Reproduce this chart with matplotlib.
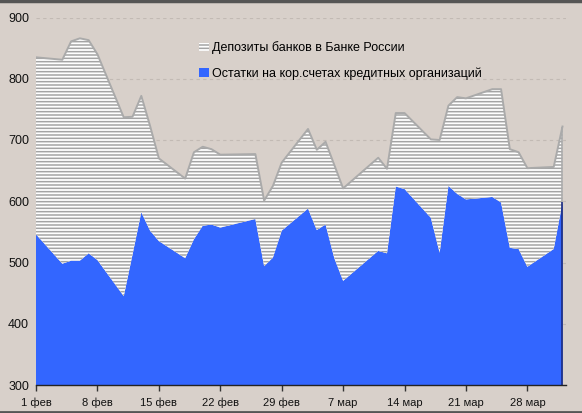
import matplotlib
matplotlib.use('Agg')
import matplotlib.pyplot as plt
import pandas as pd
from matplotlib.lines import Line2D

# рабочие дни февраль - март 2008
dates = ['2008-02-01', '2008-02-04', '2008-02-05', '2008-02-06', '2008-02-07', '2008-02-08',
         '2008-02-11', '2008-02-12', '2008-02-13', '2008-02-14', '2008-02-15',
         '2008-02-18', '2008-02-19', '2008-02-20', '2008-02-21', '2008-02-22',
         '2008-02-26', '2008-02-27', '2008-02-28', '2008-02-29',
         '2008-03-03', '2008-03-04', '2008-03-05', '2008-03-06', '2008-03-07',
         '2008-03-11', '2008-03-12', '2008-03-13', '2008-03-14',
         '2008-03-17', '2008-03-18', '2008-03-19', '2008-03-20', '2008-03-21',
         '2008-03-24', '2008-03-25', '2008-03-26', '2008-03-27', '2008-03-28',
         '2008-03-31', '2008-04-01']

# остатки на корсчетах, млрд руб.
ostatki = [546, 498, 503, 503, 515, 504,
           445, 513, 582, 552, 535,
           507, 538, 560, 562, 557,
           571, 494, 508, 552,
           588, 553, 562, 507, 470,
           519, 515, 624, 620,
           573, 516, 625, 612, 603,
           607, 598, 524, 522, 493,
           522, 598]

# депозиты банков в Банке России
depozity = [289, 333, 358, 363, 348, 336,
            292, 225, 190, 171, 135,
            130, 142, 129, 123, 119,
            106, 107, 117, 111,
            130, 131, 135, 152, 151,
            152, 138, 120, 124,
            128, 184, 131, 158, 165,
            176, 185, 161, 158, 161,
            134, 124]

label_dep = 'Депозиты банков в Банке России'
label_ost = 'Остатки на кор.счетах кредитных организаций'
months = {2: 'фев', 3: 'мар', 4: 'апр'}

bg = '#d8d0ca'
blue = '#3366ff'

plt.rcParams['hatch.linewidth'] = 1.1
plt.rcParams['font.family'] = ['Liberation Sans', 'DejaVu Sans']

x = pd.to_datetime(dates)
top = [o + d for o, d in zip(ostatki, depozity)]

fig = plt.figure(figsize=(5.82, 4.13), dpi=100, facecolor=bg)
ax = fig.add_axes([36/582, 1 - 385/413, 530/582, 367.5/413])
ax.set_facecolor(bg)

# сетка за графиком
ax.grid(axis='y', color='#c2bab4', linestyle=(0, (3, 3)), linewidth=0.8, zorder=0)
ax.set_axisbelow(True)

ax.fill_between(x, 300, ostatki, facecolor=blue, edgecolor='none', linewidth=0, zorder=2, label=label_ost)
dep = ax.fill_between(x, ostatki, top, facecolor='white', edgecolor='#a4a4a4', hatch='-----',
                      linewidth=0, zorder=2, label=label_dep)
ax.plot(x, top, color='#aaaaaa', linewidth=1.4, zorder=3)
ax.vlines(x[-1], ostatki[-1], top[-1], color='#aaaaaa', linewidth=1.2, zorder=3)
ax.vlines(x[-1], 300, ostatki[-1], color='#1a2a80', linewidth=1.2, zorder=3)

ax.set_ylim(300, 900)
ax.set_xlim(x[0], x[0] + pd.Timedelta(days=60.4))
ax.set_yticks([300, 400, 500, 600, 700, 800, 900])

ticks = pd.date_range('2008-02-01', periods=9, freq='7D')
ax.set_xticks(ticks)
ax.set_xticklabels(['{} {}'.format(t.day, months[t.month]) for t in ticks])

for s in ['top', 'right', 'left']:
    ax.spines[s].set_visible(False)
ax.spines['bottom'].set_color('#222222')
ax.spines['bottom'].set_linewidth(1.0)
ax.spines['bottom'].set_zorder(4)

ax.tick_params(axis='y', length=0, pad=5, labelsize=9, labelcolor='#111111')
ax.tick_params(axis='x', length=4, width=1, color='#333333', direction='out', pad=5,
               labelsize=8, labelcolor='#111111')

handles, labels = ax.get_legend_handles_labels()
lgnd = ax.legend(handles[::-1], labels[::-1], loc='upper left', bbox_to_anchor=(0.307, 0.935),
                 frameon=False, borderaxespad=0, borderpad=0, handlelength=0.8, handleheight=0.7,
                 handletextpad=0.3, labelspacing=1.07, prop={'size': 9})

# рамка сверху и снизу
fig.add_artist(Line2D([0, 1], [0.997, 0.997], color='#555555', linewidth=2.5, transform=fig.transFigure))
fig.add_artist(Line2D([0, 1], [0.003, 0.003], color='#555555', linewidth=2, transform=fig.transFigure))

plt.savefig('out.png', dpi=100, facecolor=bg)
plt.close()
